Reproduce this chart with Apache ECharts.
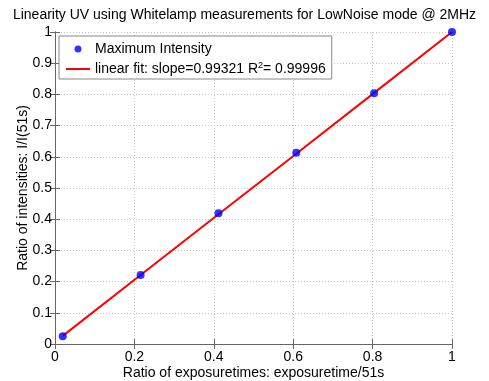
<!DOCTYPE html>
<html><head><meta charset="utf-8">
<script src="https://cdn.jsdelivr.net/npm/echarts@6/dist/echarts.min.js"></script>
<style>html,body{margin:0;padding:0;background:#fff}#c{width:489px;height:381px}</style>
</head><body><div id="c"></div>
<script>
const exposureRatio = [0.0196, 0.2157, 0.4118, 0.6078, 0.8039, 1.0];
const intensityRatio = [0.025, 0.221, 0.419, 0.613, 0.804, 1.0];
const fitValues = [0.026, 0.221, 0.416, 0.610, 0.805, 1.0];

const FONT = '"Liberation Sans", Arial, Helvetica, sans-serif';
const chart = echarts.init(document.getElementById('c'), null, {renderer: 'canvas'});
const fmt = v => (Math.abs(v) < 1e-9 ? '0' : (Math.abs(v - 1) < 1e-9 ? '1' : String(+v.toFixed(1))));
const axisCommon = {
  min: 0, max: 1,
  axisLine: {show: true, lineStyle: {color: '#666', width: 1}},
  axisTick: {show: true, inside: true, length: 5, lineStyle: {color: '#666'}},
  splitLine: {show: false}
};
chart.setOption({
  animation: false,
  backgroundColor: '#fff',
  title: {
    text: 'Linearity UV using Whitelamp measurements for LowNoise mode @ 2MHz',
    left: 'center', top: 3,
    textStyle: {fontFamily: FONT, fontSize: 14, fontWeight: 'normal', color: '#000'}
  },
  grid: {left: 55, right: 37, top: 32, bottom: 37, containLabel: false, outerBoundsMode: 'none'},
  legend: {
    orient: 'vertical', left: 59, top: 36,
    backgroundColor: '#fff', borderColor: '#888', borderWidth: 1,
    padding: [5, 6, 2, 6], itemGap: 4, itemWidth: 24, itemHeight: 7,
    textStyle: {fontFamily: FONT, fontSize: 14, color: '#000', lineHeight: 16,
      rich: {sup: {fontSize: 9, verticalAlign: 'top', padding: [0, 0, 8, 0], fontFamily: FONT, color: '#000'}}},
    formatter: name => name === 'fit' ? 'linear fit: slope=0.99321 R{sup|2}= 0.99996' : name,
    data: [
      {name: 'Maximum Intensity', icon: 'circle'},
      {name: 'fit', itemStyle: {opacity: 0}, lineStyle: {color: '#ff0000', width: 2}}
    ]
  },
  xAxis: [
    Object.assign({}, axisCommon, {
      type: 'value', position: 'bottom', interval: 0.2,
      name: 'Ratio of exposuretimes: exposuretime/51s', nameLocation: 'middle', nameGap: 22,
      nameMoveOverlap: false,
      nameTextStyle: {fontFamily: FONT, fontSize: 14, color: '#000'},
      axisLabel: {fontFamily: FONT, fontSize: 14, color: '#000', margin: 6, formatter: fmt},
      splitLine: {show: true, lineStyle: {color: '#c8c8c8', type: [1, 2]}}
    }),
    Object.assign({}, axisCommon, {type: 'value', position: 'top', interval: 0.2, axisLabel: {show: false}})
  ],
  yAxis: [
    Object.assign({}, axisCommon, {
      type: 'value', position: 'left', interval: 0.1,
      name: 'Ratio of intensities: I/I(51s)', nameLocation: 'middle', nameGap: 25,
      nameMoveOverlap: false,
      nameTextStyle: {fontFamily: FONT, fontSize: 14, color: '#000'},
      axisLabel: {fontFamily: FONT, fontSize: 14, color: '#000', margin: 3, formatter: fmt},
      splitLine: {show: true, lineStyle: {color: '#c8c8c8', type: [1, 2]}}
    }),
    Object.assign({}, axisCommon, {type: 'value', position: 'right', interval: 0.1, axisLabel: {show: false}})
  ],
  series: [
    {
      name: 'fit', type: 'line', symbol: 'none', z: 2,
      data: exposureRatio.map((x, i) => [x, fitValues[i]]),
      lineStyle: {color: '#ff0000', width: 2}, itemStyle: {color: '#ff0000'}
    },
    {
      name: 'Maximum Intensity', type: 'scatter', symbol: 'circle', symbolSize: 8, z: 3,
      data: exposureRatio.map((x, i) => [x, intensityRatio[i]]),
      itemStyle: {color: '#0000ff'}
    }
  ]
});
</script>
</body></html>
